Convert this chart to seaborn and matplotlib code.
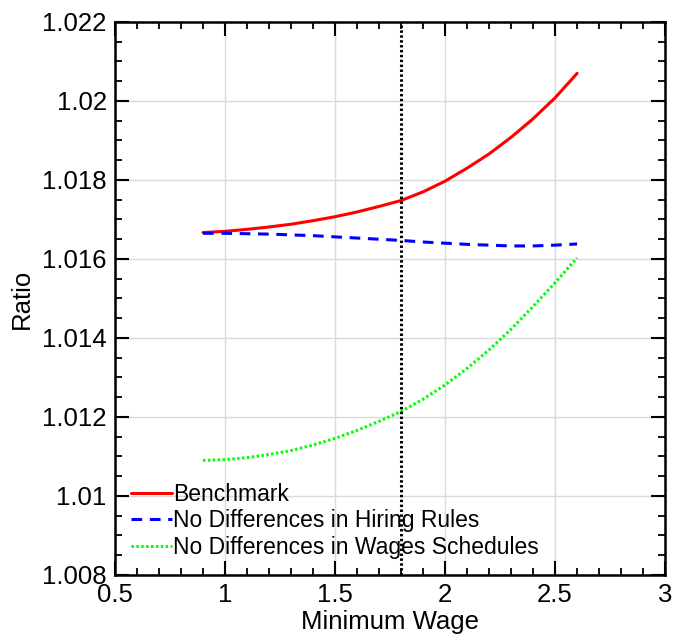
import matplotlib
matplotlib.use("Agg")
import matplotlib.pyplot as plt
import seaborn as sns
import pandas as pd
import numpy as np
from matplotlib.ticker import MultipleLocator

min_wage = [0.9, 1.0, 1.1, 1.2, 1.3, 1.4, 1.5, 1.6, 1.7, 1.8,
            1.9, 2.0, 2.1, 2.2, 2.3, 2.4, 2.5, 2.6]
benchmark = [1.01667, 1.01670, 1.01675, 1.01681, 1.01688, 1.01697, 1.01707, 1.01719, 1.01733,
             1.01748, 1.01770, 1.01797, 1.01830, 1.01866, 1.01908, 1.01955, 1.02008, 1.02070]
no_hiring = [1.01665, 1.01665, 1.01664, 1.01663, 1.01661, 1.01659, 1.01656, 1.01653, 1.01650,
             1.01647, 1.01643, 1.01640, 1.01637, 1.01635, 1.01633, 1.01633, 1.01635, 1.01638]
no_wages = [1.01090, 1.01092, 1.01097, 1.01105, 1.01115, 1.01129, 1.01146, 1.01166, 1.01189,
            1.01214, 1.01245, 1.01281, 1.01323, 1.01370, 1.01422, 1.01480, 1.01540, 1.01603]
series_names = ["Benchmark", "No Differences in Hiring Rules", "No Differences in Wages Schedules"]
series_colors = ["#ff0000", "#0000ff", "#00ff00"]
vline_x = 1.8

sns.set_theme(style="white")
plt.rcParams['font.family'] = ['Liberation Sans', 'DejaVu Sans']
plt.rcParams['text.color'] = 'black'
plt.rcParams['axes.labelcolor'] = 'black'
plt.rcParams['xtick.color'] = 'black'
plt.rcParams['ytick.color'] = 'black'

df = pd.DataFrame({
    "Minimum Wage": min_wage * 3,
    "Ratio": benchmark + no_hiring + no_wages,
    "Series": [series_names[0]] * len(min_wage) + [series_names[1]] * len(min_wage)
              + [series_names[2]] * len(min_wage),
})

fig = plt.figure(figsize=(6.78, 6.43), dpi=100)
ax = fig.add_axes([0.1696, 0.1058, 0.8114, 0.86])

styles = {series_names[0]: "-", series_names[1]: (0, (3.5, 2.5)), series_names[2]: (0, (0.8, 0.8))}
for name, color in zip(series_names, series_colors):
    sub = df[df["Series"] == name]
    sns.lineplot(data=sub, x="Minimum Wage", y="Ratio", ax=ax, color=color,
                 linestyle=styles[name], linewidth=2.2, label=name)

ax.axvline(vline_x, color="black", linestyle=(0, (0.8, 0.8)), linewidth=2.2)

ax.set_xlim(0.5, 3.0)
ax.set_ylim(1.008, 1.022)
ax.xaxis.set_minor_locator(MultipleLocator(0.1))
ax.yaxis.set_minor_locator(MultipleLocator(0.0005))
ax.set_xticks([0.5, 1, 1.5, 2, 2.5, 3])
ax.set_xticklabels(["0.5", "1", "1.5", "2", "2.5", "3"])
ax.set_yticks([1.008, 1.01, 1.012, 1.014, 1.016, 1.018, 1.02, 1.022])
ax.set_yticklabels(["1.008", "1.01", "1.012", "1.014", "1.016", "1.018", "1.02", "1.022"])

ax.grid(True, which="major", color="#dadada", linewidth=1.0)
ax.set_axisbelow(True)
ax.tick_params(which="both", direction="in", top=True, right=True, bottom=True, left=True,
               color="black", labelcolor="black", labelsize=18.5, pad=6)
ax.tick_params(which="major", length=10, width=1.5)
ax.tick_params(which="minor", length=5, width=1.3)
for s in ax.spines.values():
    s.set_color("black")
    s.set_linewidth(1.8)

ax.set_xlabel("Minimum Wage", fontsize=18.5, labelpad=2, color="black")
ax.set_ylabel("Ratio", fontsize=18.5, labelpad=6, color="black")

leg = ax.legend(loc="lower left", frameon=False, fontsize=16.5, handlelength=1.8,
                handletextpad=0.05, labelspacing=0.15, borderaxespad=0.3,
                bbox_to_anchor=(0.0, 0.0))
for t in leg.get_texts():
    t.set_color("black")

fig.savefig("out.png", dpi=100)
